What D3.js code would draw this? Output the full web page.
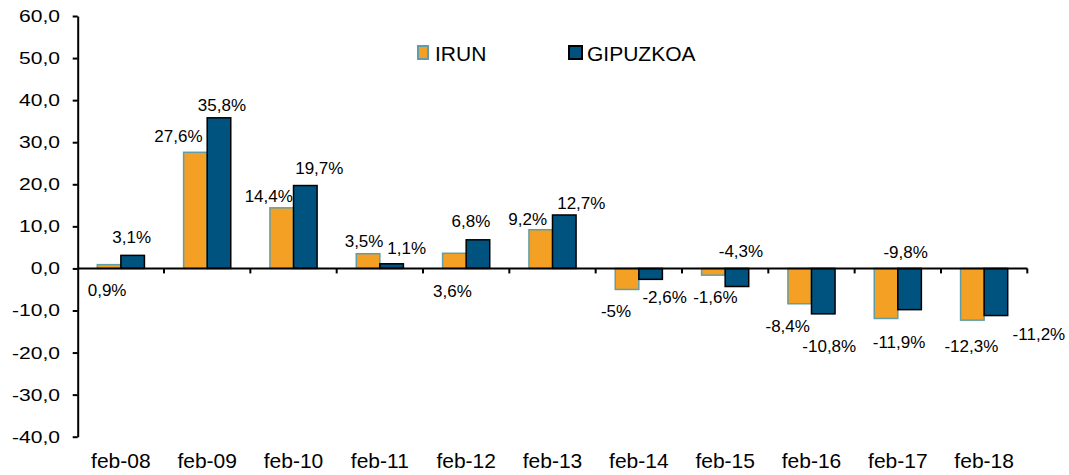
<!DOCTYPE html>
<html lang="es">
<head>
<meta charset="UTF-8">
<title>IRUN - GIPUZKOA</title>
<script src="https://d3js.org/d3.v7.min.js"></script>
<style>
  body { margin: 0; background: #fff; }
  text { font-family: "Liberation Sans", Arial, sans-serif; fill: #000; }
</style>
</head>
<body>
<script>
    // data
    var categories = ["feb-08", "feb-09", "feb-10", "feb-11", "feb-12", "feb-13", "feb-14", "feb-15", "feb-16", "feb-17", "feb-18"];
    var irun = [0.9, 27.6, 14.4, 3.5, 3.6, 9.2, -5, -1.6, -8.4, -11.9, -12.3];
    var gipuzkoa = [3.1, 35.8, 19.7, 1.1, 6.8, 12.7, -2.6, -4.3, -10.8, -9.8, -11.2];
    var yTicks = [60, 50, 40, 30, 20, 10, 0, -10, -20, -30, -40];
    var seriesNames = ["IRUN", "GIPUZKOA"];

    // label nudges (px) relative to the end of each bar, as placed in the original
    var irunLabelShift = [[-2, 25], [-17, -16], [-13, -12], [-4, -13], [-2, 38], [-13, -11], [-11, 22], [2, 22], [-12, 22], [13, 24], [-1, 26]];
    var gipLabelShift = [[-1, -18], [3, -13], [14, -17], [15, -16], [-7, -19], [17, -12], [14, 18], [4, -35], [6, 32], [-4, -58], [43, 19]];

    var width = 1069, height = 475;
    var orange = "#F4A024", orangeEdge = "#5F9EA8";
    var blue = "#00527F", blueEdge = "#000000";

    var svg = d3.select("body").append("svg")
        .attr("width", width)
        .attr("height", height);

    var x = d3.scaleBand()
        .domain(categories)
        .range([77.7, 1027.3])
        .paddingInner(0);

    var y = d3.scaleLinear()
        .domain([-40, 60])
        .range([436.7, 16]);

    var fmt = d3.formatLocale({ decimal: ",", thousands: ".", grouping: [3], currency: ["", "€"], minus: "-" });
    var tickFmt = fmt.format(".1f");
    function pct(v) {
        return (Number.isInteger(v) ? String(v) : v.toFixed(1).replace(".", ",")) + "%";
    }

    var bw = x.bandwidth();
    var gapOut = bw * 0.227;
    var barW = (bw - 2 * gapOut) / 2;

    // bars
    var groups = svg.append("g");
    categories.forEach(function (c, i) {
        var x0 = x(c) + gapOut;
        [[irun[i], orange, orangeEdge, 0], [gipuzkoa[i], blue, blueEdge, 1]].forEach(function (s) {
            var v = s[0];
            groups.append("rect")
                .attr("x", x0 + s[3] * barW)
                .attr("y", y(Math.max(0, v)))
                .attr("width", barW)
                .attr("height", Math.abs(y(v) - y(0)))
                .attr("fill", s[1])
                .attr("stroke", s[2])
                .attr("stroke-width", 1.5);
        });
    });

    // y axis
    var sx = 1.24;
    var yAxis = svg.append("g")
        .attr("transform", "translate(" + x.range()[0] + ",0)")
        .call(d3.axisLeft(y).tickValues(yTicks).tickFormat(tickFmt).tickSize(5).tickSizeOuter(0));
    yAxis.select(".domain").attr("stroke-width", 2);
    yAxis.selectAll(".tick line").attr("stroke-width", 2);
    yAxis.selectAll(".tick text")
        .attr("x", -17.7 / sx)
        .attr("transform", "scale(" + sx + ",1)")
        .style("font-size", "17px")
        .style("font-family", "'Liberation Sans', Arial, sans-serif");

    // zero line with ticks between categories
    var zeroAxis = svg.append("g");
    zeroAxis.append("line")
        .attr("x1", x.range()[0]).attr("x2", x.range()[1])
        .attr("y1", y(0)).attr("y2", y(0))
        .attr("stroke", "#000").attr("stroke-width", 2);
    zeroAxis.selectAll("line.sep")
        .data(categories)
        .enter().append("line")
        .attr("class", "sep")
        .attr("x1", function (d) { return x(d) + bw; })
        .attr("x2", function (d) { return x(d) + bw; })
        .attr("y1", y(0)).attr("y2", y(0) + 5)
        .attr("stroke", "#000").attr("stroke-width", 2);

    // category labels at the bottom
    var xAxis = svg.append("g")
        .attr("transform", "translate(0," + y(-40) + ")")
        .call(d3.axisBottom(x).tickSize(0).tickPadding(16.5));
    xAxis.select(".domain").remove();
    xAxis.selectAll(".tick text")
        .style("font-size", "21px")
        .style("font-family", "'Liberation Sans', Arial, sans-serif");

    // data labels
    var labels = svg.append("g").style("font-size", "17px").attr("text-anchor", "middle");
    categories.forEach(function (c, i) {
        var x0 = x(c) + gapOut;
        labels.append("text")
            .attr("x", x0 + barW / 2 + irunLabelShift[i][0])
            .attr("y", y(irun[i]) + irunLabelShift[i][1])
            .attr("dy", "0.35em")
            .text(pct(irun[i]));
        labels.append("text")
            .attr("x", x0 + barW * 1.5 + gipLabelShift[i][0])
            .attr("y", y(gipuzkoa[i]) + gipLabelShift[i][1])
            .attr("dy", "0.35em")
            .text(pct(gipuzkoa[i]));
    });

    // legend
    var legend = svg.append("g").style("font-size", "21px");
    var legendItems = [
        { name: seriesNames[0], fill: orange, edge: orangeEdge, lx: 418, tx: 435, w: 10, h: 13 },
        { name: seriesNames[1], fill: blue, edge: blueEdge, lx: 569, tx: 587, w: 13, h: 13 }
    ];
    legendItems.forEach(function (d) {
        legend.append("rect")
            .attr("x", d.lx).attr("y", 46)
            .attr("width", d.w).attr("height", d.h)
            .attr("fill", d.fill)
            .attr("stroke", d.edge)
            .attr("stroke-width", 2);
        legend.append("text")
            .attr("x", d.tx).attr("y", 60.5)
            .text(d.name);
    });
</script>
</body>
</html>
